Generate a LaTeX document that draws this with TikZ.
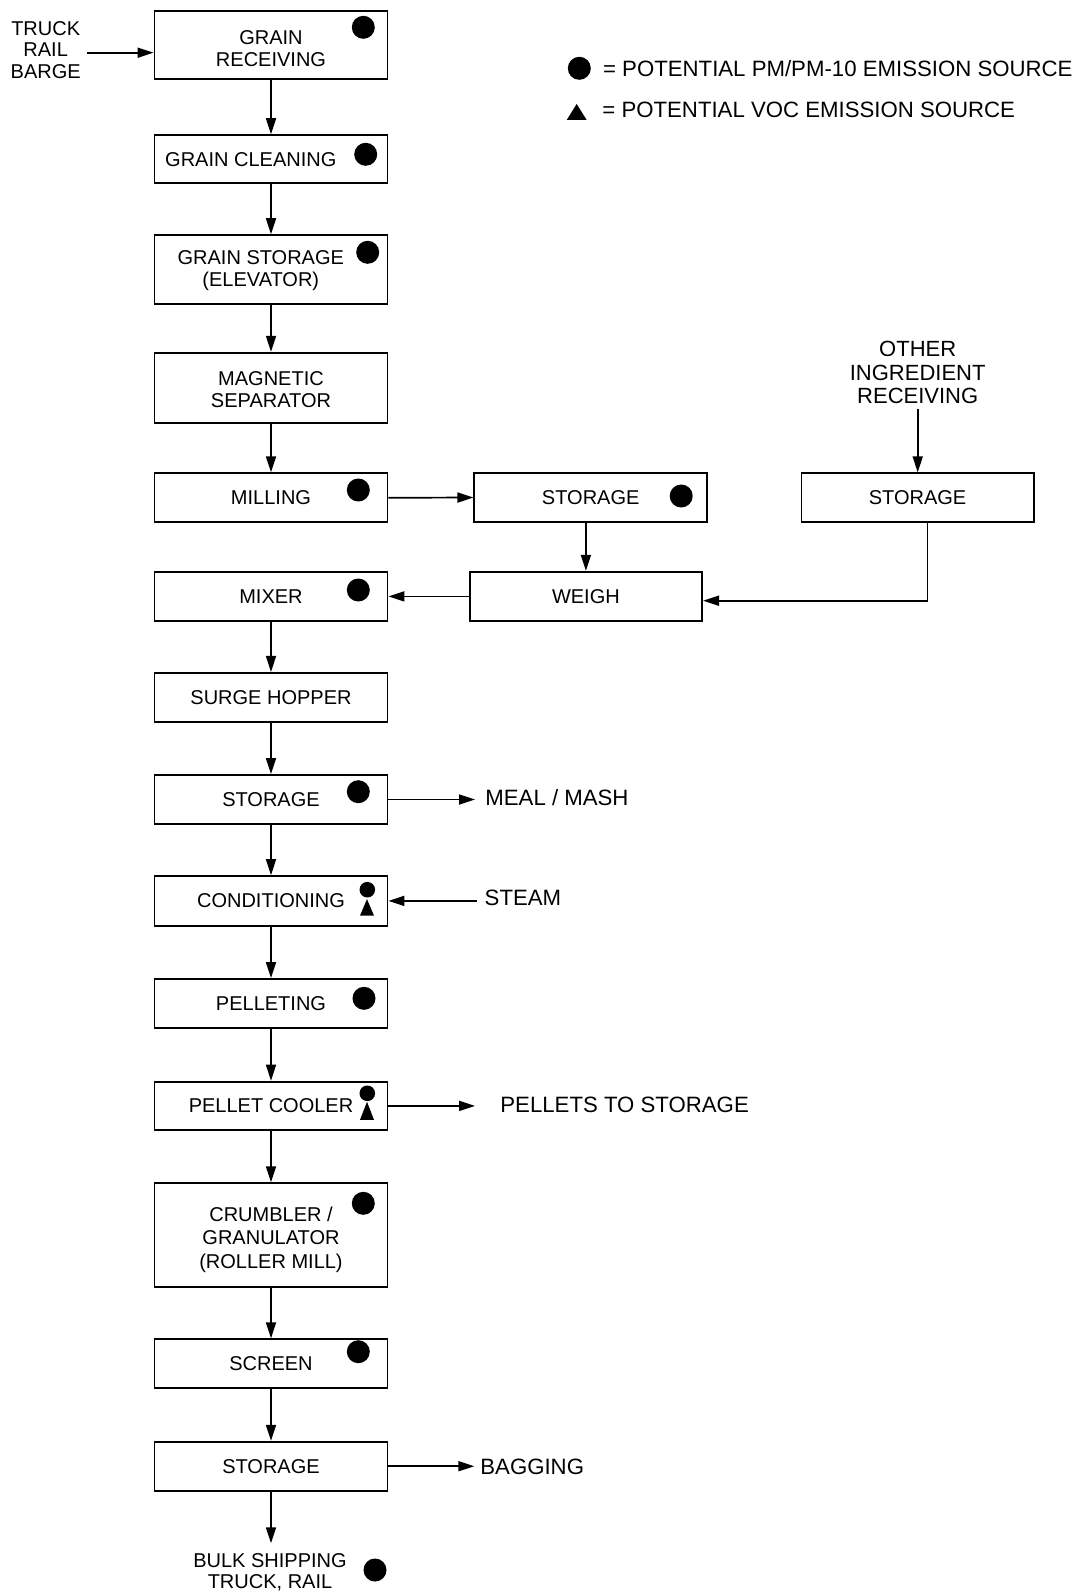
\documentclass[tikz,border=0pt]{standalone}
\usepackage{fontspec}
\setmainfont{Liberation Sans}
\usetikzlibrary{arrows.meta}
\newcommand\mytri[4]{\fill (#1-#3/2,#2+#4/2) -- (#1+#3/2,#2+#4/2) -- (#1,#2-#4/2) -- cycle;}
\begin{document}
\begin{tikzpicture}[x=0.5pt,y=-0.5pt,
  box/.style={draw, line width=0.95pt, minimum width=116.5pt, inner sep=0pt, align=center,
              font=\fontsize{10}{10.9}\selectfont},
  lbl/.style={inner sep=0pt, align=center, font=\fontsize{10}{10.9}\selectfont},
  side/.style={inner sep=0pt, anchor=west, font=\fontsize{11.1}{12}\selectfont},
  dot/.style={circle, fill, inner sep=0pt, minimum size=11.5pt},
  sdot/.style={circle, fill, inner sep=0pt, minimum size=7.8pt},
  arr/.style={line width=0.85pt, -{Triangle[length=8pt,width=5pt]}}]
\useasboundingbox (0,0) rectangle (1079,1594);

% ---- left column boxes
\node[box, minimum height=34pt] (rec) at (271,45.2) {};
\node[lbl] (rect) at (271,49) {GRAIN\\RECEIVING};
\node[box, minimum height=24pt] (cln) at (271,159.2) {};
\node[lbl] (clnt) at (250.8,160) {GRAIN CLEANING};
\node[box, minimum height=34.5pt] (gst) at (271,269.7) {};
\node[lbl] (gstt) at (260.8,270.5) {GRAIN STORAGE\\(ELEVATOR)};
\node[box, minimum height=35pt] (mag) at (271,387.7) {};
\node[lbl] (magt) at (271,389.5) {MAGNETIC\\SEPARATOR};
\node[box, minimum height=24.5pt] (mil) at (271,497.8) {MILLING};
\node[box, minimum height=24.5pt] (mix) at (271,596.4) {MIXER};
\node[box, minimum height=24.5pt] (srg) at (271,697.4) {SURGE HOPPER};
\node[box, minimum height=24.5pt] (sta) at (271,799.5) {STORAGE};
\node[box, minimum height=24.75pt] (cnd) at (271,900.9) {CONDITIONING};
\node[box, minimum height=24.5pt] (pel) at (271,1003.5) {PELLETING};
\node[box, minimum height=24.25pt] (coo) at (271,1105.9) {PELLET COOLER};
\node[box, minimum height=51.7pt] (crm) at (271,1235) {};
\node[lbl, font=\fontsize{10}{11.8}\selectfont] (crmt) at (271,1239.5) {CRUMBLER /\\GRANULATOR\\(ROLLER MILL)};
\node[box, minimum height=24.35pt] (scr) at (271,1363.7) {SCREEN};
\node[box, minimum height=24.5pt] (stb) at (271,1466.2) {STORAGE};

% ---- middle / right boxes
\node[box, minimum width=116.3pt, minimum height=24.2pt] (msto) at (590.7,497.5) {STORAGE};
\node[box, minimum width=116.2pt, minimum height=24.65pt] (wgh) at (585.9,596.4) {WEIGH};
\node[box, minimum width=116.1pt, minimum height=24.2pt] (rsto) at (917.6,497.5) {STORAGE};

% ---- free texts
\node[lbl] (src) at (45.7,50) {TRUCK\\RAIL\\BARGE};
\coordinate (srcout) at (87.3,52.7);
\node[lbl, font=\fontsize{10}{10.5}\selectfont] (bulk) at (270,1572.2) {BULK SHIPPING\\TRUCK, RAIL};
\coordinate (bulkin) at (271,1543.3);
\node[lbl, font=\fontsize{11}{11.7}\selectfont] (oth) at (917.7,372.7) {OTHER\\INGREDIENT\\RECEIVING};
\node[side] (meal) at (485,797.7) {MEAL / MASH};
\node[side] (stm) at (484.3,898.3) {STEAM};
\node[side] (pts) at (500,1105) {PELLETS TO STORAGE};
\node[side] (bag) at (480,1466.7) {BAGGING};

% ---- legend
\node[dot] (ldot) at (579.3,68.3) {};
\node[side] (leg1) at (602.7,68.3) {= POTENTIAL PM/PM-10 EMISSION SOURCE};
\mytri{576.7}{112}{20}{16}
\node[side] (leg2) at (602,110) {= POTENTIAL VOC EMISSION SOURCE};

% ---- emission symbols
\node[dot] (d1) at (363.3,27.3) {};
\node[dot] (d2) at (365.7,154.3) {};
\node[dot] (d3) at (367.7,252.3) {};
\node[dot] (d4) at (358.3,490) {};
\node[dot] (d5) at (681.2,496) {};
\node[dot] (d6) at (358.3,590) {};
\node[dot] (d7) at (358.3,791.7) {};
\node[sdot] (d8) at (367.3,889.7) {};
\mytri{367}{907.4}{14}{16.5}
\node[dot] (d9) at (364,998.3) {};
\node[sdot] (d10) at (367.3,1093.3) {};
\mytri{367}{1110.8}{14}{18}
\node[dot] (d11) at (363.3,1203.3) {};
\node[dot] (d12) at (358.3,1351.7) {};
\node[dot] (d13) at (375,1570) {};

% ---- connectors
\draw[arr] (srcout) -- (srcout -| rec.west);
\draw[arr] (rec.south) -- (cln.north);
\draw[arr] (cln.south) -- (gst.north);
\draw[arr] (gst.south) -- (mag.north);
\draw[arr] (mag.south) -- (mil.north);
\draw[arr] (mix.south) -- (srg.north);
\draw[arr] (srg.south) -- (sta.north);
\draw[arr] (sta.south) -- (cnd.north);
\draw[arr] (cnd.south) -- (pel.north);
\draw[arr] (pel.south) -- (coo.north);
\draw[arr] (coo.south) -- (crm.north);
\draw[arr] (crm.south) -- (scr.north);
\draw[arr] (scr.south) -- (stb.north);
\draw[arr] (stb.south) -- (bulkin);
\draw[arr] (mil.east) -- (msto.west);
\draw[arr] (msto.south -| wgh.north) -- (wgh.north);
\draw[arr] ([yshift=-2.5pt]oth.south) -- (oth.south |- rsto.north);
\draw[arr] ([xshift=5pt]rsto.south) |- ([yshift=-2.15pt]wgh.east);
\draw[arr] (wgh.west) -- (mix.east);
\draw[arr] (sta.east) -- ([xshift=-5pt]meal.west |- sta.east);
\draw[arr] ([xshift=-3.8pt]stm.west |- cnd.east) -- (cnd.east);
\draw[arr] (coo.east) -- ([xshift=-12.5pt]pts.west |- coo.east);
\draw[arr] (stb.east) -- ([xshift=-2.85pt]bag.west |- stb.east);
\end{tikzpicture}
\end{document}
